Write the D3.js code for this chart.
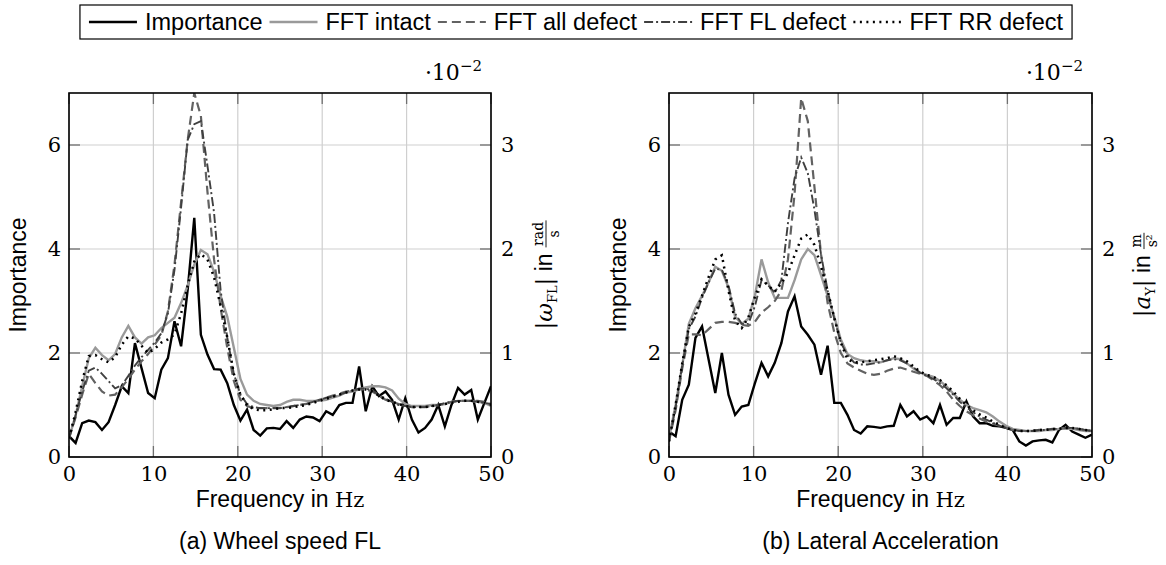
<!DOCTYPE html>
<html lang="en">
<head>
<meta charset="UTF-8">
<title>Importance and FFT spectra</title>
<script src="https://d3js.org/d3.v7.min.js"></script>
<style>
  body { margin: 0; background: #fff; }
  svg { display: block; }
</style>
</head>
<body>
<div id="chart"></div>
<script>
// sampling grid: 65 bins from 0 to 50 Hz
const freqStep = 50 / 64;
const freq = d3.range(65).map(i => i * freqStep);

const xTicks = [0, 10, 20, 30, 40, 50];
const impTicks = [0, 2, 4, 6];
const fftTicks = [0, 1, 2, 3];

const legendLabels = ['Importance', 'FFT intact', 'FFT all defect', 'FFT FL defect', 'FFT RR defect'];
const captions = ['(a) Wheel speed FL', '(b) Lateral Acceleration'];

// (a) wheel speed FL
const impWheel = [0.40,0.27,0.65,0.70,0.67,0.52,0.67,1.00,1.36,1.23,2.19,1.71,1.23,1.13,1.68,1.90,2.61,2.13,3.22,4.60,
  2.35,1.97,1.69,1.68,1.42,1.00,0.70,0.91,0.52,0.41,0.55,0.56,0.54,0.69,0.56,0.72,0.78,0.76,0.69,0.88,
  0.81,1.00,1.04,1.04,1.74,0.88,1.36,1.17,1.26,1.10,0.72,1.13,0.72,0.47,0.56,0.72,1.00,0.59,1.00,1.33,
  1.20,1.29,0.72,1.04,1.36];
// FFT magnitudes in 1e-2 rad/s
const fftWheelIntact = [0.18,0.40,0.68,0.95,1.05,0.98,0.93,0.99,1.15,1.26,1.15,1.09,1.15,1.17,1.24,1.29,1.34,1.48,1.65,1.85,
  1.99,1.95,1.78,1.55,1.35,1.05,0.75,0.60,0.54,0.51,0.50,0.49,0.50,0.53,0.55,0.55,0.54,0.54,0.54,0.55,
  0.57,0.59,0.62,0.63,0.65,0.67,0.68,0.68,0.67,0.64,0.56,0.51,0.49,0.49,0.49,0.50,0.50,0.51,0.53,0.54,
  0.54,0.54,0.53,0.52,0.49];
const fftWheelAll = [0.18,0.38,0.60,0.80,0.71,0.63,0.59,0.60,0.67,0.75,0.84,0.92,0.99,1.08,1.17,1.40,1.85,2.45,3.05,3.50,
  3.28,2.55,1.90,1.43,1.05,0.73,0.55,0.49,0.47,0.47,0.47,0.47,0.47,0.48,0.49,0.50,0.51,0.53,0.55,0.57,
  0.59,0.61,0.63,0.64,0.65,0.65,0.63,0.59,0.55,0.53,0.51,0.49,0.48,0.48,0.48,0.49,0.50,0.51,0.53,0.54,
  0.54,0.54,0.54,0.53,0.51];
const fftWheelFL = [0.18,0.40,0.63,0.83,0.86,0.80,0.73,0.66,0.69,0.78,0.88,0.96,1.03,1.10,1.19,1.38,1.80,2.40,3.05,3.20,
  3.23,2.80,2.35,1.60,1.15,0.80,0.60,0.51,0.48,0.47,0.47,0.47,0.47,0.48,0.49,0.50,0.51,0.53,0.55,0.57,
  0.58,0.60,0.62,0.64,0.66,0.66,0.64,0.60,0.56,0.53,0.50,0.49,0.48,0.48,0.48,0.49,0.50,0.52,0.53,0.54,
  0.54,0.54,0.53,0.52,0.51];
const fftWheelRR = [0.18,0.43,0.73,0.97,0.98,0.94,0.91,0.96,1.08,1.16,1.14,1.07,1.00,1.04,1.10,1.13,1.18,1.38,1.65,1.88,
  1.95,1.90,1.73,1.45,1.15,0.80,0.60,0.50,0.46,0.45,0.45,0.46,0.47,0.47,0.48,0.49,0.50,0.52,0.54,0.56,
  0.58,0.60,0.62,0.64,0.65,0.65,0.63,0.59,0.55,0.53,0.51,0.49,0.48,0.48,0.48,0.49,0.50,0.51,0.52,0.53,
  0.54,0.54,0.53,0.52,0.50];

// (b) lateral acceleration
const impLat = [0.49,0.40,1.10,1.39,2.29,2.51,1.87,1.23,2.00,1.20,0.81,0.97,1.00,1.42,1.81,1.55,1.81,2.19,2.80,3.09,
  2.51,2.35,2.16,1.58,2.14,1.04,1.04,0.81,0.52,0.45,0.59,0.58,0.56,0.59,0.60,1.00,0.78,0.88,0.72,0.78,
  0.65,1.00,0.62,0.75,0.75,1.07,0.78,0.65,0.65,0.60,0.59,0.56,0.52,0.30,0.22,0.30,0.32,0.33,0.28,0.52,
  0.62,0.49,0.43,0.37,0.43];
// FFT magnitudes in 1e-2 m/s^2
const fftLatIntact = [0.18,0.50,0.88,1.28,1.43,1.55,1.68,1.83,1.79,1.63,1.35,1.28,1.33,1.55,1.90,1.68,1.53,1.53,1.53,1.70,
  1.90,2.00,1.94,1.75,1.55,1.35,1.13,0.99,0.95,0.93,0.92,0.92,0.91,0.93,0.95,0.94,0.90,0.85,0.81,0.79,
  0.77,0.73,0.68,0.61,0.55,0.50,0.47,0.45,0.43,0.39,0.34,0.30,0.27,0.26,0.25,0.25,0.25,0.26,0.26,0.27,
  0.27,0.27,0.26,0.25,0.25];
const fftLatAll = [0.15,0.45,0.85,1.18,1.18,1.17,1.23,1.29,1.30,1.30,1.29,1.27,1.26,1.30,1.39,1.44,1.50,1.60,1.90,2.53,
  3.45,3.23,2.60,1.95,1.48,1.20,1.00,0.90,0.86,0.83,0.80,0.79,0.80,0.83,0.85,0.86,0.84,0.82,0.80,0.78,
  0.74,0.69,0.63,0.55,0.49,0.44,0.40,0.37,0.34,0.32,0.30,0.28,0.26,0.25,0.25,0.25,0.26,0.26,0.27,0.27,
  0.28,0.28,0.27,0.26,0.25];
const fftLatFL = [0.15,0.48,0.88,1.23,1.35,1.53,1.68,1.81,1.80,1.65,1.38,1.28,1.28,1.45,1.70,1.65,1.58,1.70,2.25,2.68,
  2.88,2.73,2.38,1.95,1.60,1.33,1.10,0.98,0.91,0.89,0.89,0.90,0.91,0.93,0.94,0.93,0.90,0.86,0.81,0.78,
  0.75,0.71,0.66,0.60,0.53,0.48,0.43,0.39,0.36,0.33,0.30,0.28,0.26,0.25,0.25,0.25,0.26,0.26,0.27,0.27,
  0.28,0.28,0.27,0.26,0.25];
const fftLatRR = [0.15,0.50,0.90,1.25,1.38,1.55,1.73,1.90,1.94,1.60,1.31,1.24,1.34,1.54,1.71,1.65,1.59,1.67,1.77,1.94,
  2.10,2.14,2.04,1.83,1.60,1.34,1.10,0.94,0.91,0.91,0.92,0.93,0.94,0.95,0.97,0.95,0.92,0.87,0.82,0.79,
  0.77,0.74,0.69,0.63,0.56,0.50,0.45,0.41,0.38,0.34,0.31,0.28,0.26,0.25,0.25,0.25,0.26,0.26,0.27,0.27,
  0.28,0.28,0.27,0.26,0.25];

const styles = [
  { stroke: '#000', width: 2.4, dash: null },        // Importance
  { stroke: '#9a9a9a', width: 2.4, dash: null },     // FFT intact
  { stroke: '#626262', width: 2.2, dash: '9,5' },    // all defect
  { stroke: '#404040', width: 1.9, dash: '9,3,2,3' },// FL defect
  { stroke: '#000', width: 2.5, dash: '2,4.5' }      // RR defect
];

const sans = "'Liberation Sans', Arial, Helvetica, sans-serif";
const serif = "'DejaVu Serif', serif";
const fs = 23;

const width = 1166, height = 565;
const plotTop = 93, plotBottom = 457;

const svg = d3.select('#chart').append('svg')
  .attr('width', width).attr('height', height);

const panels = [
  { x0: 69, x1: 491, imp: impWheel, fft: [fftWheelIntact, fftWheelAll, fftWheelFL, fftWheelRR],
    caption: captions[0], unitX: 552, sym: 'ω', sub: 'FL', num: 'rad', den: 's' },
  { x0: 669, x1: 1092, imp: impLat, fft: [fftLatIntact, fftLatAll, fftLatFL, fftLatRR],
    caption: captions[1], unitX: 1150, sym: 'a', sub: 'Y', num: 'm', den: 's²' }
];

panels.forEach((p, pi) => {
  const x = d3.scaleLinear().domain([0, 50]).range([p.x0, p.x1]);
  const yL = d3.scaleLinear().domain([0, 7]).range([plotBottom, plotTop]);
  const yR = d3.scaleLinear().domain([0, 3.5]).range([plotBottom, plotTop]);
  const g = svg.append('g');

  // grid
  g.append('g').selectAll('line').data(xTicks).join('line')
    .attr('x1', d => x(d)).attr('x2', d => x(d))
    .attr('y1', plotTop).attr('y2', plotBottom)
    .attr('stroke', '#cfcfcf').attr('stroke-width', 1.2);
  g.append('g').selectAll('line').data(impTicks).join('line')
    .attr('x1', p.x0).attr('x2', p.x1)
    .attr('y1', d => yL(d)).attr('y2', d => yL(d))
    .attr('stroke', '#cfcfcf').attr('stroke-width', 1.2);

  // inner tick marks
  const tl = 11;
  const tk = g.append('g').attr('stroke', '#707070').attr('stroke-width', 1.3);
  xTicks.forEach(d => {
    tk.append('line').attr('x1', x(d)).attr('x2', x(d)).attr('y1', plotBottom).attr('y2', plotBottom - tl);
    tk.append('line').attr('x1', x(d)).attr('x2', x(d)).attr('y1', plotTop).attr('y2', plotTop + tl);
  });
  impTicks.forEach(d => {
    tk.append('line').attr('x1', p.x0).attr('x2', p.x0 + tl).attr('y1', yL(d)).attr('y2', yL(d));
  });
  fftTicks.forEach(d => {
    tk.append('line').attr('x1', p.x1).attr('x2', p.x1 - tl).attr('y1', yR(d)).attr('y2', yR(d));
  });

  // series
  const clipId = 'clip' + pi;
  svg.append('clipPath').attr('id', clipId).append('rect')
    .attr('x', p.x0).attr('y', plotTop).attr('width', p.x1 - p.x0).attr('height', plotBottom - plotTop);
  const lines = g.append('g').attr('clip-path', `url(#${clipId})`);
  const lineL = d3.line().x((d, i) => x(freq[i])).y(d => yL(d));
  const lineR = d3.line().x((d, i) => x(freq[i])).y(d => yR(d));
  const all = [{ d: p.imp, gen: lineL, s: styles[0] }]
    .concat(p.fft.map((arr, k) => ({ d: arr, gen: lineR, s: styles[k + 1] })));
  all.forEach(o => {
    lines.append('path').attr('d', o.gen(o.d))
      .attr('fill', 'none').attr('stroke', o.s.stroke).attr('stroke-width', o.s.width)
      .attr('stroke-dasharray', o.s.dash).attr('stroke-linejoin', 'miter');
  });

  // frame
  g.append('rect').attr('x', p.x0).attr('y', plotTop)
    .attr('width', p.x1 - p.x0).attr('height', plotBottom - plotTop)
    .attr('fill', 'none').attr('stroke', '#000').attr('stroke-width', 1.6);

  // axes labels
  const styleAxis = a => {
    a.select('.domain').remove();
    a.attr('font-family', serif).attr('font-size', 21);
    a.selectAll('text').attr('fill', '#000');
  };
  g.append('g').attr('transform', `translate(0,${plotBottom})`)
    .call(d3.axisBottom(x).tickValues(xTicks).tickSize(0).tickPadding(9).tickFormat(d3.format('d')))
    .call(styleAxis);
  g.append('g').attr('transform', `translate(${p.x0},0)`)
    .call(d3.axisLeft(yL).tickValues(impTicks).tickSize(0).tickPadding(8).tickFormat(d3.format('d')))
    .call(styleAxis);
  g.append('g').attr('transform', `translate(${p.x1},0)`)
    .call(d3.axisRight(yR).tickValues(fftTicks).tickSize(0).tickPadding(10).tickFormat(d3.format('d')))
    .call(styleAxis);

  // scale factor label
  const sc = g.append('text').attr('x', p.x1 - 9).attr('y', 80)
    .attr('text-anchor', 'end').attr('font-family', serif).attr('font-size', 22);
  sc.append('tspan').text('·10');
  sc.append('tspan').attr('font-size', 15).attr('dy', -9).text('−2');

  // x label
  const xl = g.append('text').attr('x', (p.x0 + p.x1) / 2).attr('y', 507)
    .attr('text-anchor', 'middle').attr('font-size', fs);
  xl.append('tspan').attr('font-family', sans).text('Frequency in ');
  xl.append('tspan').attr('font-family', serif).attr('font-size', 21).text('Hz');

  // caption
  g.append('text').attr('x', (p.x0 + p.x1) / 2).attr('y', 549)
    .attr('text-anchor', 'middle').attr('font-family', sans).attr('font-size', fs)
    .text(p.caption);

  // left y label
  g.append('text').attr('transform', `translate(${p.x0 - 43},${(plotTop + plotBottom) / 2}) rotate(-90)`)
    .attr('text-anchor', 'middle').attr('font-family', sans).attr('font-size', fs)
    .text('Importance');

  // right y label with fraction
  const ug = g.append('g').attr('transform', `translate(${p.unitX},${(plotTop + plotBottom) / 2}) rotate(-90)`);
  const inner = ug.append('g');
  const ut = inner.append('text').attr('x', 0).attr('y', 0).attr('font-size', 23);
  ut.append('tspan').attr('font-family', serif).text('|');
  ut.append('tspan').attr('font-family', serif).attr('font-style', 'italic').text(p.sym);
  ut.append('tspan').attr('font-family', serif).attr('font-size', 13).attr('dy', 5).text(p.sub);
  ut.append('tspan').attr('font-family', serif).attr('dy', -5).text('|');
  ut.append('tspan').attr('font-family', sans).text('\u00a0in');
  const w = ut.node().getComputedTextLength() + 6;
  const nt = inner.append('text').attr('y', -9).attr('text-anchor', 'middle')
    .attr('font-family', serif).attr('font-size', 14).text(p.num);
  const dt = inner.append('text').attr('y', 7).attr('text-anchor', 'middle')
    .attr('font-family', serif).attr('font-size', 14).text(p.den);
  const fw = Math.max(nt.node().getComputedTextLength(), dt.node().getComputedTextLength()) + 3;
  nt.attr('x', w + fw / 2);
  dt.attr('x', w + fw / 2);
  inner.append('line').attr('x1', w).attr('x2', w + fw).attr('y1', -6).attr('y2', -6)
    .attr('stroke', '#000').attr('stroke-width', 0.9);
  inner.attr('transform', `translate(${-(w + fw) / 2},0)`);
});

// legend
const legend = svg.append('g');
const sampleLen = 48, legendY = 22;
let lx = 0;
legendLabels.forEach((lab, i) => {
  const s = styles[i];
  legend.append('line').attr('x1', lx).attr('x2', lx + sampleLen)
    .attr('y1', legendY).attr('y2', legendY)
    .attr('stroke', s.stroke).attr('stroke-width', s.width).attr('stroke-dasharray', s.dash);
  lx += sampleLen + 8;
  const t = legend.append('text').attr('x', lx).attr('y', legendY).attr('dy', '0.35em')
    .attr('font-family', sans).attr('font-size', 23.5).text(lab);
  lx += t.node().getComputedTextLength() + 7;
});
const contentW = lx - 7;
const pad = 9;
legend.insert('rect', ':first-child')
  .attr('x', -pad).attr('y', 5).attr('width', contentW + 2 * pad).attr('height', 34)
  .attr('fill', '#fff').attr('stroke', '#000').attr('stroke-width', 1.2);
legend.attr('transform', `translate(${576 - contentW / 2},0)`);
</script>
</body>
</html>
